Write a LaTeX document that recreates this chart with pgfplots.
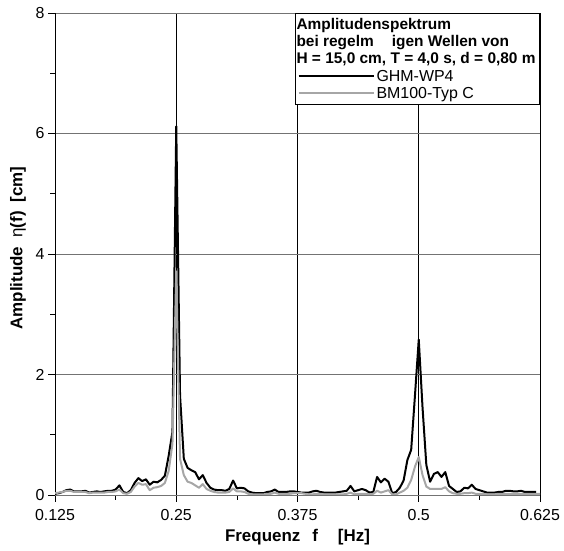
\documentclass[border=0pt]{standalone}
\usepackage{pgfplots}
\pgfplotsset{compat=1.18}
\usepackage{pgfplotstable}
\usepackage{fontspec}
\setmainfont{Liberation Sans}

\pgfplotstableread{
f ghm bm
0.125 0.02 0.03
0.12891 0.03 0.04
0.13281 0.05 0.05
0.13672 0.08 0.07
0.14063 0.09 0.07
0.14453 0.06 0.05
0.14844 0.06 0.05
0.15234 0.06 0.05
0.15625 0.07 0.05
0.16016 0.04 0.03
0.16406 0.05 0.04
0.16797 0.06 0.04
0.17188 0.05 0.04
0.17578 0.06 0.04
0.17969 0.07 0.05
0.18359 0.07 0.05
0.1875 0.09 0.06
0.19141 0.16 0.09
0.19531 0.05 0.03
0.19922 0.03 0.02
0.20313 0.08 0.05
0.20703 0.20 0.14
0.21094 0.28 0.20
0.21484 0.23 0.17
0.21875 0.26 0.18
0.22266 0.17 0.08
0.22656 0.22 0.12
0.23047 0.21 0.13
0.23438 0.25 0.15
0.23828 0.32 0.20
0.24219 0.65 0.40
0.24609 1.05 0.85
0.25 6.12 3.71
0.25391 1.65 0.60
0.25781 0.60 0.33
0.26172 0.45 0.22
0.26563 0.41 0.20
0.26953 0.38 0.16
0.27344 0.26 0.12
0.27734 0.33 0.18
0.28125 0.20 0.10
0.28516 0.12 0.07
0.28906 0.09 0.05
0.29297 0.08 0.04
0.29688 0.08 0.04
0.30078 0.07 0.04
0.30469 0.10 0.05
0.30859 0.24 0.11
0.3125 0.11 0.06
0.31641 0.12 0.06
0.32031 0.11 0.05
0.32422 0.06 0.02
0.32813 0.04 0.01
0.33203 0.03 0.01
0.33594 0.03 0.01
0.33984 0.03 0.01
0.34375 0.05 0.02
0.34766 0.06 0.02
0.35156 0.09 0.04
0.35547 0.05 0.02
0.35938 0.05 0.02
0.36328 0.05 0.02
0.36719 0.06 0.02
0.37109 0.06 0.03
0.375 0.05 0.03
0.37891 0.04 0.03
0.38281 0.04 0.02
0.38672 0.04 0.01
0.39063 0.06 0.01
0.39453 0.07 0.02
0.39844 0.05 0.02
0.40234 0.04 0.01
0.40625 0.04 0.01
0.41016 0.04 0.01
0.41406 0.04 0.01
0.41797 0.05 0.01
0.42188 0.06 0.01
0.42578 0.07 0.02
0.42969 0.15 0.04
0.43359 0.06 0.01
0.4375 0.08 0.02
0.44141 0.10 0.02
0.44531 0.08 0.02
0.44922 0.04 0.01
0.45313 0.05 0.02
0.45703 0.30 0.07
0.46094 0.21 0.04
0.46484 0.27 0.06
0.46875 0.22 0.08
0.47266 0.03 0.01
0.47656 0.05 0.01
0.48047 0.12 0.04
0.48438 0.24 0.07
0.48828 0.58 0.12
0.49219 0.75 0.25
0.49609 1.65 0.47
0.5 2.58 0.63
0.50391 1.45 0.33
0.50781 0.50 0.14
0.51172 0.22 0.10
0.51563 0.35 0.10
0.51953 0.38 0.10
0.52344 0.30 0.10
0.52734 0.38 0.13
0.53125 0.15 0.06
0.53516 0.10 0.03
0.53906 0.05 0.02
0.54297 0.06 0.02
0.54688 0.12 0.03
0.55078 0.11 0.03
0.55469 0.17 0.04
0.55859 0.10 0.02
0.5625 0.08 0.02
0.56641 0.06 0.02
0.57031 0.04 0.01
0.57422 0.04 0.01
0.57813 0.04 0.01
0.58203 0.05 0.02
0.58594 0.05 0.02
0.58984 0.07 0.02
0.59375 0.07 0.02
0.59766 0.06 0.02
0.60156 0.06 0.02
0.60547 0.07 0.02
0.60938 0.05 0.02
0.61328 0.05 0.02
0.61719 0.05 0.02
0.62109 0.05 0.02
0.625 nan 0.02
}\spectrum

\begin{document}
\begin{tikzpicture}
\begin{axis}[
  scale only axis,
  width=485bp, height=482bp,
  xmin=0.125, xmax=0.625, ymin=0, ymax=8,
  axis x line=bottom, axis y line=left,
  x axis line style={-, draw=gray!90!black, line width=0.8bp},
  y axis line style={-, draw=black, line width=0.8bp},
  xtick={0.125,0.25,0.375,0.5,0.625},
  xticklabels={0.125,0.25,0.375,0.5,0.625},
  ytick={0,2,4,6,8},
  minor x tick num=1, minor y tick num=1,
  tick align=outside,
  major tick length=7bp, minor tick length=5bp,
  tick style={black, line width=0.6bp},
  xmajorgrids, ymajorgrids,
  x grid style={black, line width=0.7bp},
  y grid style={gray!90!black, line width=0.9bp},
  /pgf/number format/assume math mode=true,
  tick label style={font=\fontsize{16}{19}\selectfont},
  xticklabel style={yshift=-4bp},
  label style={font=\fontsize{17}{20}\selectfont\bfseries},
  xlabel={Frequenz\hspace{12bp}f\hspace{20bp}[Hz]},
  ylabel={Amplitude\hspace{9bp}{\mdseries η}(f)\hspace{9bp}[cm]},
  xlabel style={yshift=-2bp},
  ylabel style={yshift=3bp, xshift=6bp},
  legend style={at={(rel axis cs:1,1)}, anchor=north east, draw=black, fill=white,
    line width=0.8bp,
    font=\fontsize{16}{18}\selectfont, inner xsep=2bp, inner ysep=3bp,
    row sep=0.5bp},
  legend cell align=left,
  legend image code/.code={\draw[#1] (0bp,0bp) -- (75bp,0bp);},
]
\addlegendimage{empty legend}
\addlegendentry{\hspace{-80bp}\fontsize{15.5}{17}\selectfont\textbf{Amplitudenspektrum}}
\addlegendimage{empty legend}
\addlegendentry{\hspace{-80bp}\fontsize{15.5}{17}\selectfont\textbf{bei regelm\hspace{18bp}igen Wellen von}}
\addlegendimage{empty legend}
\addlegendentry{\hspace{-80bp}\fontsize{15.5}{17}\selectfont\textbf{H = 15,0 cm, T = 4,0 s, d = 0,80 m}}
\addplot[black, line width=2bp, line join=round] table[x=f, y=ghm] {\spectrum};
\addlegendentry{GHM-WP4}
\addplot[gray!70, line width=2bp, line join=round] table[x=f, y=bm] {\spectrum};
\addlegendentry{BM100-Typ C}
\end{axis}
\pgfresetboundingbox
\path[use as bounding box] ([shift={(-55bp,-56bp)}]current axis.south west) rectangle ([shift={(24bp,13bp)}]current axis.north east);
\end{tikzpicture}
\end{document}
